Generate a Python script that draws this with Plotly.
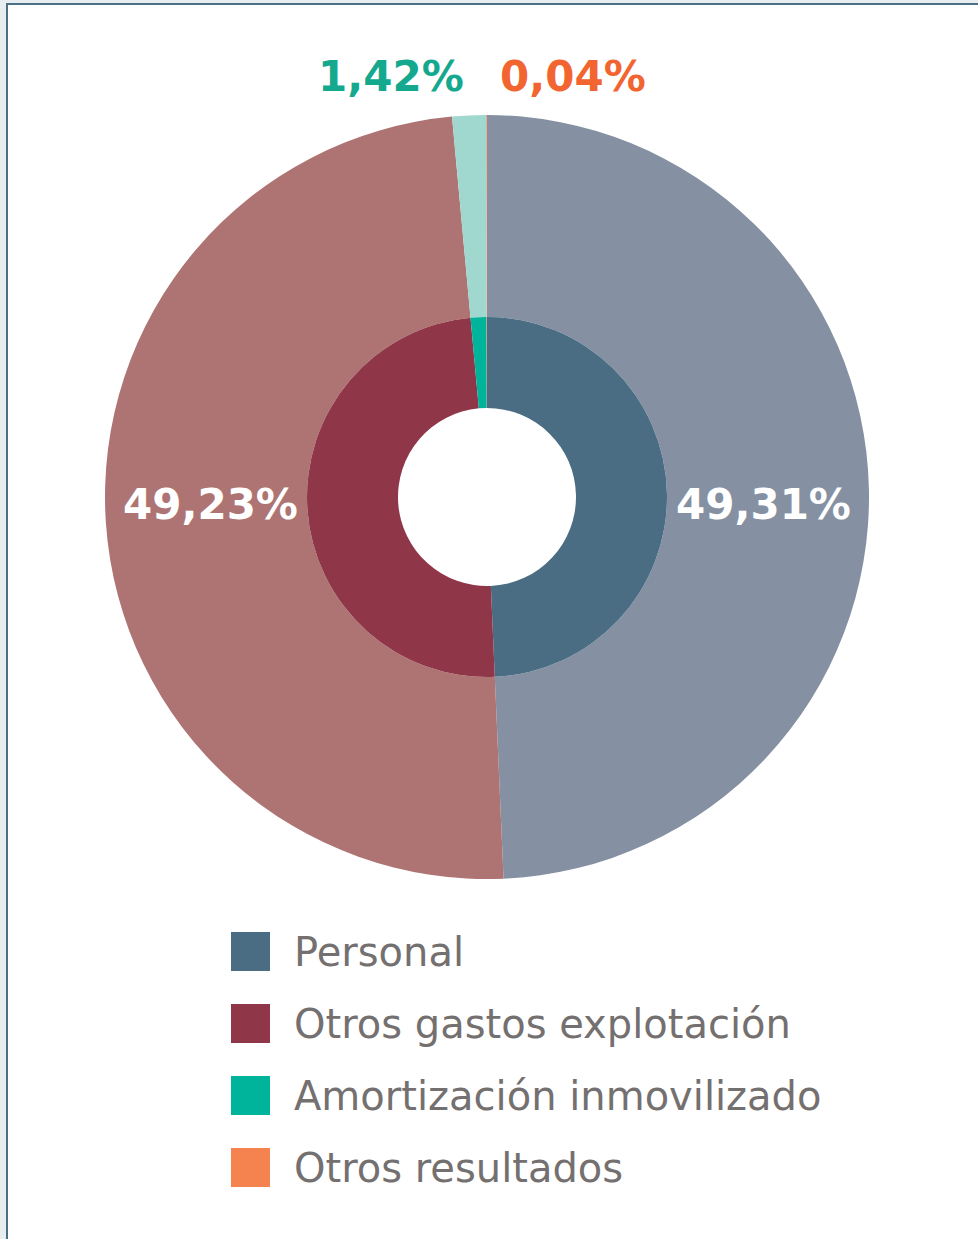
import plotly.graph_objects as go

# ---- data ----
categories = ["Personal", "Otros gastos explotación", "Amortización inmovilizado", "Otros resultados"]
values = [49.31, 49.23, 1.42, 0.04]
inner_colors = ["#4a6d84", "#8f3649", "#00b39b", "#f5834f"]
outer_colors = ["#8591a2", "#ae7473", "#a0d8cf", "#f5a47f"]
label_colors = ["#ffffff", "#ffffff", "#14a98e", "#f26430"]

W, H = 978, 1239
CX, CY = 487, 497
R_OUT, R_IN, R_HOLE = 382, 180, 89
FONT = "DejaVu Sans"


def dom(r):
    return dict(x=[(CX - r) / W, (CX + r) / W], y=[1 - (CY + r) / H, 1 - (CY - r) / H])


def fmt(v):
    return f"{v:.2f}%".replace(".", ",")


fig = go.Figure()

# outer ring (light colours)
fig.add_trace(go.Pie(
    labels=categories, values=values, sort=False, direction="clockwise",
    hole=R_IN / R_OUT, domain=dom(R_OUT),
    marker=dict(colors=outer_colors, line=dict(width=0)),
    textinfo="none", showlegend=False, hoverinfo="label+percent",
))

# inner ring (dark colours)
fig.add_trace(go.Pie(
    labels=categories, values=values, sort=False, direction="clockwise",
    hole=R_HOLE / R_IN, domain=dom(R_IN),
    marker=dict(colors=inner_colors, line=dict(width=0)),
    textinfo="none", showlegend=False, hoverinfo="label+percent",
))

shapes = [
    dict(type="rect", xref="paper", yref="paper", x0=7 / W, x1=1.02, y0=-0.02, y1=1 - 4 / H,
         fillcolor="white", line=dict(color="#4a6f86", width=2), layer="below"),
]
annotations = []

# percentage labels
label_pos = [  # (x, y, xanchor)
    (763, 504, "center"),
    (210, 504, "center"),
    (466, 77, "right"),
    (498, 77, "left"),
]
for v, col, (x, y, xa) in zip(values, label_colors, label_pos):
    annotations.append(dict(x=x / W, y=1 - y / H, xref="paper", yref="paper", xanchor=xa, yanchor="middle",
                            text=fmt(v), showarrow=False,
                            font=dict(family=FONT, size=42, color=col, weight="bold")))

# legend
for i, (cat, col) in enumerate(zip(categories, inner_colors)):
    yc = 951.5 + 72 * i
    shapes.append(dict(type="rect", xref="paper", yref="paper",
                       x0=231 / W, x1=270 / W, y0=1 - (yc + 19.5) / H, y1=1 - (yc - 19.5) / H,
                       fillcolor=col, line=dict(width=0)))
    annotations.append(dict(x=292 / W, y=1 - yc / H, xref="paper", yref="paper", xanchor="left", yanchor="middle",
                            text=cat, showarrow=False,
                            font=dict(family=FONT, size=40, color="#757070")))

fig.update_layout(
    width=W, height=H, margin=dict(l=0, r=0, t=0, b=0),
    paper_bgcolor="#e8edf0", plot_bgcolor="white",
    separators=",.", showlegend=False,
    shapes=shapes, annotations=annotations,
)

fig.write_html("out.html", config={"displayModeBar": False},
               post_script="document.body.style.margin='0px';document.body.style.background='#e8edf0';")
